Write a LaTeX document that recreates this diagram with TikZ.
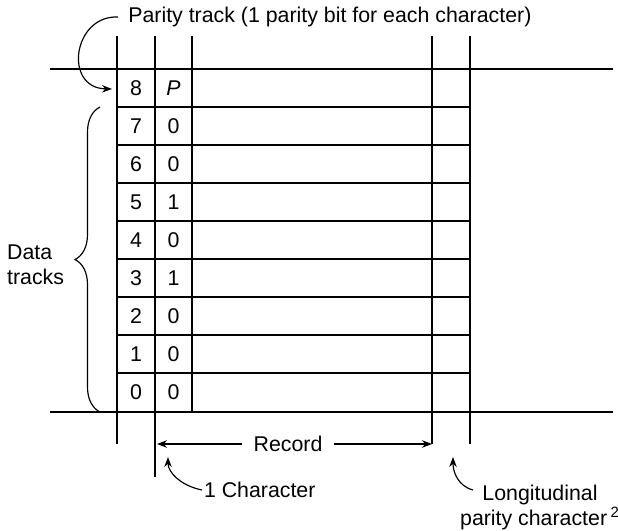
\documentclass[tikz,border=0pt]{standalone}
\usepackage{fontspec}
\setmainfont{Liberation Sans}
\usetikzlibrary{arrows.meta, positioning, calc, decorations.pathreplacing}
\tikzset{
  tape/.style={line width=0.8pt},
  lbl/.style={font=\fontsize{12.8}{15}\selectfont, inner sep=1pt},
  ptr/.style={line width=0.7pt, -{Stealth[length=6pt, width=4.5pt]}}
}

\begin{document}
\begin{tikzpicture}[x=0.6pt, y=-0.6pt]
  \useasboundingbox (0,0) rectangle (618,530);
  % tape edges
  \draw[tape] (50,69) -- (613,69);
  \draw[tape] (50,412) -- (613,412);
  % track lines
  \foreach \y in {107,145,...,373} \draw[tape] (117,\y) -- (470,\y);
  % character boundaries
  \draw[tape] (117,36) -- (117,444);
  \draw[tape] (155,36) -- (155,477);
  \draw[tape] (192,36) -- (192,412);
  \draw[tape] (432,36) -- (432,444);
  \draw[tape] (470,36) -- (470,444);
  % bits
  \node[lbl] (t8) at (136,88) {8};
  \node[lbl] (b8) at (173.5,88) {\textit{P}};
  \foreach \t/\b [count=\i from 0] in {7/0,6/0,5/1,4/0,3/1,2/0,1/0,0/0} {
    \node[lbl] (t\t) at (136,126+38*\i) {\t};
    \node[lbl] (b\t) at (173.5,126+38*\i) {\b};
  }
  % parity track
  \node[lbl, anchor=west, inner xsep=6pt] (ptrack) at (118,17) {Parity track (1 parity bit for each character)};
  \coordinate (ptip) at (112,89);
  \draw[ptr] (ptrack.west) .. controls (73,15) and (63,88) .. (ptip);
  % data tracks
  \draw[line width=0.7pt, decorate, decoration={brace, amplitude=15pt}] (100,412) -- (100,107);
  \node[lbl, anchor=east, align=left] (data) at (66,265) {Data\\tracks};
  % record
  \node[lbl, inner xsep=7pt] (rec) at (288,444) {Record};
  \coordinate (recL) at (157,444);
  \coordinate (recR) at (432,444);
  \draw[ptr] (rec.west) -- (recL);
  \draw[ptr] (rec.east) -- (recR);
  % one character
  \node[lbl, anchor=west] (onechar) at (202,490) {1 Character};
  \coordinate (chtip) at (168,457);
  \draw[ptr] (onechar.west) .. controls (182,486) and (168,473) .. (chtip);
  % longitudinal parity
  \node[lbl, align=center] (lpc) at (540,507) {Longitudinal\\parity character\,\textsuperscript{2}};
  \coordinate (lfrom) at (473,490);
  \coordinate (ltip) at (453,457);
  \draw[ptr] (lfrom) .. controls (458,486) and (453,472) .. (ltip);
\end{tikzpicture}
\end{document}
